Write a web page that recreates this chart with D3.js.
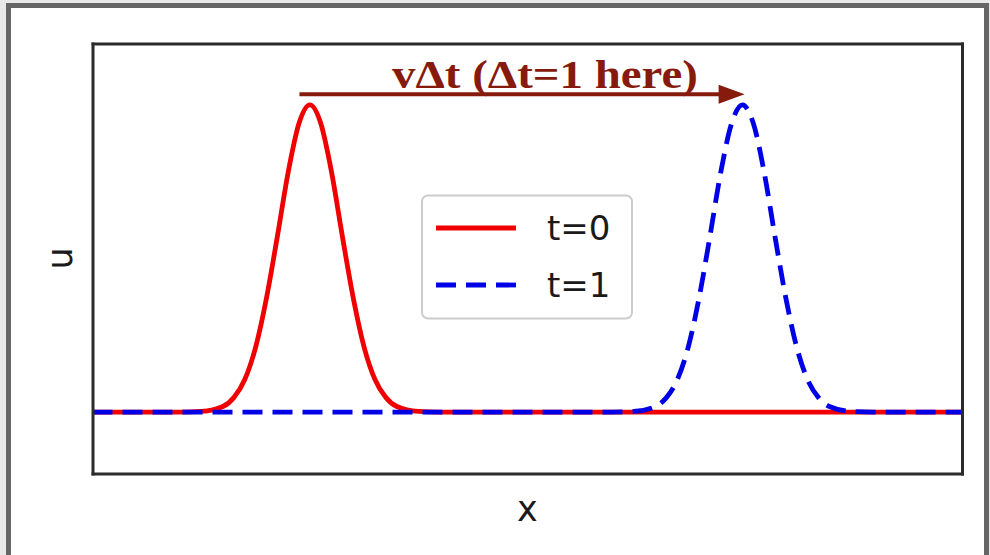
<!DOCTYPE html>
<html>
<head>
<meta charset="utf-8">
<script src="https://cdn.jsdelivr.net/npm/d3@7/dist/d3.min.js"></script>
<style>
  html, body { margin: 0; padding: 0; background: #e9e9e9; }
  svg { display: block; }
</style>
</head>
<body>
<svg id="chart" width="990" height="555"></svg>
<script>
// Pulse profile at t = 0 (solid red)
const xT0 = [0.00, 0.20, 0.25, 0.30, 0.325, 0.35, 0.375, 0.40, 0.425, 0.45, 0.475, 0.50,
             0.525, 0.55, 0.575, 0.60, 0.625, 0.65, 0.675, 0.70, 0.75, 0.80, 2.00];
const uT0 = [0, 0, 0.002, 0.018, 0.047, 0.105, 0.21, 0.37, 0.57, 0.78, 0.94, 1.00,
             0.94, 0.78, 0.57, 0.37, 0.21, 0.105, 0.047, 0.018, 0.002, 0, 0];

// Pulse profile at t = 1 (dashed blue), advected by v*dt
const xT1 = [0.00, 1.195, 1.245, 1.295, 1.32, 1.345, 1.37, 1.395, 1.42, 1.445, 1.47, 1.495,
             1.52, 1.545, 1.57, 1.595, 1.62, 1.645, 1.67, 1.695, 1.745, 1.795, 2.00];
const uT1 = [0, 0, 0.002, 0.018, 0.047, 0.105, 0.21, 0.37, 0.57, 0.78, 0.94, 1.00,
             0.94, 0.78, 0.57, 0.37, 0.21, 0.105, 0.047, 0.018, 0.002, 0, 0];

const seriesLabels = ["t=0", "t=1"];
const xDomain = [0, 2];
const uDomain = [-0.2, 1.2];

// Displacement arrow (data coordinates)
const arrowFrom = [0.476, 1.035];
const arrowTo = [1.50, 1.035];
const arrowLabel = "v\u0394t (\u0394t=1 here)";

const svg = d3.select("#chart");

// Page panel with grey border
svg.append("rect")
  .attr("x", 8.5).attr("y", 5.5)
  .attr("width", 978).attr("height", 560)
  .attr("fill", "#ffffff")
  .attr("stroke", "#666666")
  .attr("stroke-width", 5);

const plot = { left: 92.5, top: 43.5, width: 869.5, height: 430 };

const x = d3.scaleLinear().domain(xDomain).range([plot.left, plot.left + plot.width]);
const y = d3.scaleLinear().domain(uDomain).range([plot.top + plot.height, plot.top]);

const clipId = "plot-clip";
svg.append("clipPath").attr("id", clipId)
  .append("rect")
  .attr("x", plot.left).attr("y", plot.top)
  .attr("width", plot.width).attr("height", plot.height);

const line = d3.line()
  .x(d => x(d[0]))
  .y(d => y(d[1]))
  .curve(d3.curveMonotoneX);

const lineWidth = 4.8;
const g = svg.append("g").attr("clip-path", `url(#${clipId})`);

g.append("path")
  .datum(d3.zip(xT0, uT0))
  .attr("d", line)
  .attr("fill", "none")
  .attr("stroke", "#f00000")
  .attr("stroke-width", lineWidth)
  .attr("stroke-linejoin", "round");

g.append("path")
  .datum(d3.zip(xT1, uT1))
  .attr("d", line)
  .attr("fill", "none")
  .attr("stroke", "#0000e6")
  .attr("stroke-width", lineWidth)
  .attr("stroke-dasharray", "20,10");

// Axes frame without ticks
const frameColor = "#2b2b2b";
const frameWidth = 3;
const frame = [
  [d3.axisBottom(x), `translate(0,${plot.top + plot.height})`],
  [d3.axisTop(x), `translate(0,${plot.top})`],
  [d3.axisLeft(y), `translate(${plot.left},0)`],
  [d3.axisRight(y), `translate(${plot.left + plot.width},0)`]
];
frame.forEach(([axis, tr]) => {
  svg.append("g").attr("transform", tr)
    .call(axis.tickValues([]).tickSizeOuter(0))
    .select(".domain")
    .attr("stroke", frameColor)
    .attr("stroke-width", frameWidth)
    .attr("stroke-linecap", "square");
});

// Axis labels
svg.append("text")
  .attr("x", plot.left + plot.width / 2)
  .attr("y", 521)
  .attr("text-anchor", "middle")
  .attr("font-family", "DejaVu Sans")
  .attr("font-size", 35)
  .attr("fill", "#1a1a1a")
  .text("x");

svg.append("text")
  .attr("transform", `translate(72,${plot.top + plot.height / 2}) rotate(-90)`)
  .attr("text-anchor", "middle")
  .attr("font-family", "DejaVu Sans")
  .attr("font-size", 35)
  .attr("fill", "#1a1a1a")
  .text("u");

// Displacement arrow and its label
const arrowColor = "#861a0c";
const ax0 = x(arrowFrom[0]), ax1 = x(arrowTo[0]), ay = y(arrowFrom[1]);
const headLen = 26, headHalf = 9.5;
svg.append("line")
  .attr("x1", ax0).attr("y1", ay)
  .attr("x2", ax1 - headLen + 2).attr("y2", ay)
  .attr("stroke", arrowColor)
  .attr("stroke-width", 4);
svg.append("path")
  .attr("d", `M${ax1},${ay} L${ax1 - headLen},${ay - headHalf} L${ax1 - headLen},${ay + headHalf} Z`)
  .attr("fill", arrowColor);

svg.append("text")
  .attr("x", 392)
  .attr("y", 88)
  .attr("font-family", "Liberation Serif, Times New Roman, serif")
  .attr("font-weight", "bold")
  .attr("font-size", 39)
  .attr("textLength", 306)
  .attr("lengthAdjust", "spacingAndGlyphs")
  .attr("fill", arrowColor)
  .text(arrowLabel);

// Legend
const legend = svg.append("g");
legend.append("rect")
  .attr("x", 422).attr("y", 195.5)
  .attr("width", 210).attr("height", 123)
  .attr("rx", 6).attr("ry", 6)
  .attr("fill", "#ffffff").attr("fill-opacity", 0.85)
  .attr("stroke", "#cccccc").attr("stroke-width", 2);

const legendItems = [
  { label: seriesLabels[0], color: "#f00000", dash: null, y: 228 },
  { label: seriesLabels[1], color: "#0000e6", dash: "20,10", y: 285 }
];
legendItems.forEach(item => {
  legend.append("line")
    .attr("x1", 436).attr("x2", 516)
    .attr("y1", item.y).attr("y2", item.y)
    .attr("stroke", item.color)
    .attr("stroke-width", lineWidth)
    .attr("stroke-dasharray", item.dash);
  legend.append("text")
    .attr("x", 547)
    .attr("y", item.y + 12)
    .attr("font-family", "DejaVu Sans")
    .attr("font-size", 34)
    .attr("fill", "#1a1a1a")
    .text(item.label);
});
</script>
</body>
</html>
